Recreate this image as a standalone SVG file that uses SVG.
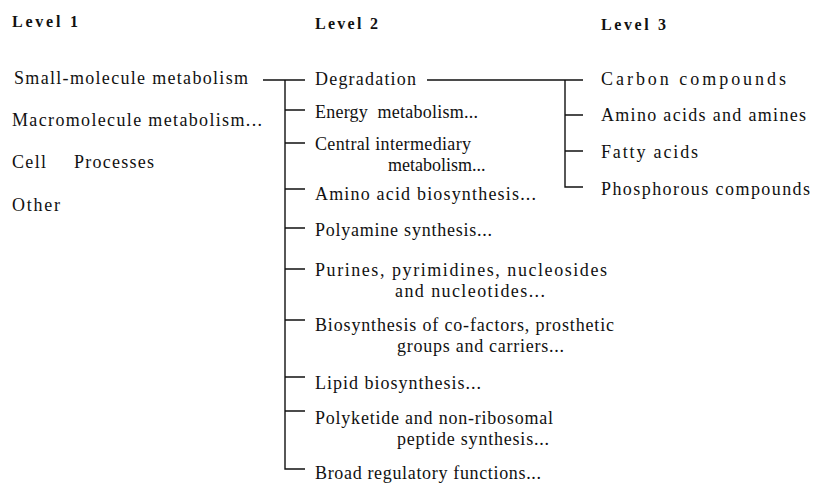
<svg xmlns="http://www.w3.org/2000/svg" width="813" height="483" viewBox="0 0 813 483">
<style>
text{font-family:"Liberation Serif","Times New Roman",serif;font-size:18px;fill:#111}
.h{font-weight:bold;font-size:16px}
.ln{stroke:#111;stroke-width:1.4;fill:none}
</style>
<rect width="813" height="483" fill="#fff"/>
<g id="headers">
<text class="h" x="12" y="27" textLength="66" lengthAdjust="spacing">Level 1</text>
<text class="h" x="315" y="29" textLength="63" lengthAdjust="spacing">Level 2</text>
<text class="h" x="601" y="30" textLength="65" lengthAdjust="spacing">Level 3</text>
</g>
<g id="l1-small"><text x="14" y="84" textLength="234" lengthAdjust="spacing">Small-molecule metabolism</text></g>
<g id="l1-macro"><text x="12" y="126" textLength="250" lengthAdjust="spacing">Macromolecule metabolism...</text></g>
<g id="l1-cell"><text x="12" y="168" textLength="34" lengthAdjust="spacing">Cell</text><text x="74" y="168" textLength="80" lengthAdjust="spacing">Processes</text></g>
<g id="l1-other"><text x="12" y="211" textLength="48" lengthAdjust="spacing">Other</text></g>
<g id="l2-degradation"><text x="315" y="85" textLength="101" lengthAdjust="spacing">Degradation</text></g>
<g id="l2-energy"><text x="315" y="118" xml:space="preserve" textLength="163" lengthAdjust="spacing">Energy  metabolism...</text></g>
<g id="l2-central"><text x="315" y="150" textLength="156" lengthAdjust="spacing">Central intermediary</text><text x="388" y="171">metabolism...</text></g>
<g id="l2-amino"><text x="315" y="200" textLength="221" lengthAdjust="spacing">Amino acid biosynthesis...</text></g>
<g id="l2-polyamine"><text x="315" y="236" textLength="177" lengthAdjust="spacing">Polyamine synthesis...</text></g>
<g id="l2-purines"><text x="315" y="276" textLength="292" lengthAdjust="spacing">Purines, pyrimidines, nucleosides</text><text x="395" y="297" textLength="150" lengthAdjust="spacing">and nucleotides...</text></g>
<g id="l2-biosynthesis"><text x="315" y="331" textLength="299" lengthAdjust="spacing">Biosynthesis of co-factors, prosthetic</text><text x="397" y="352" textLength="167" lengthAdjust="spacing">groups and carriers...</text></g>
<g id="l2-lipid"><text x="315" y="389" textLength="166" lengthAdjust="spacing">Lipid biosynthesis...</text></g>
<g id="l2-polyketide"><text x="315" y="424" textLength="238" lengthAdjust="spacing">Polyketide and non-ribosomal</text><text x="397" y="445" textLength="152" lengthAdjust="spacing">peptide synthesis...</text></g>
<g id="l2-broad"><text x="315" y="479" textLength="226" lengthAdjust="spacing">Broad regulatory functions...</text></g>
<g id="l3-carbon"><text x="601" y="85" textLength="185" lengthAdjust="spacing">Carbon compounds</text></g>
<g id="l3-amino"><text x="601" y="121" textLength="205" lengthAdjust="spacing">Amino acids and amines</text></g>
<g id="l3-fatty"><text x="601" y="158" textLength="97" lengthAdjust="spacing">Fatty acids</text></g>
<g id="l3-phos"><text x="601" y="195" textLength="209" lengthAdjust="spacing">Phosphorous compounds</text></g>
<g id="connectors" class="ln">
<path d="M263 80H305M285 80V469H305"/>
<path d="M285 110H305M285 143H305M285 189H305M285 228H305M285 269H305M285 320H305M285 377H305M285 411H305"/>
<path d="M427 80H583M565 80V187H583M565 115H583M565 151H583"/>
</g>
</svg>
